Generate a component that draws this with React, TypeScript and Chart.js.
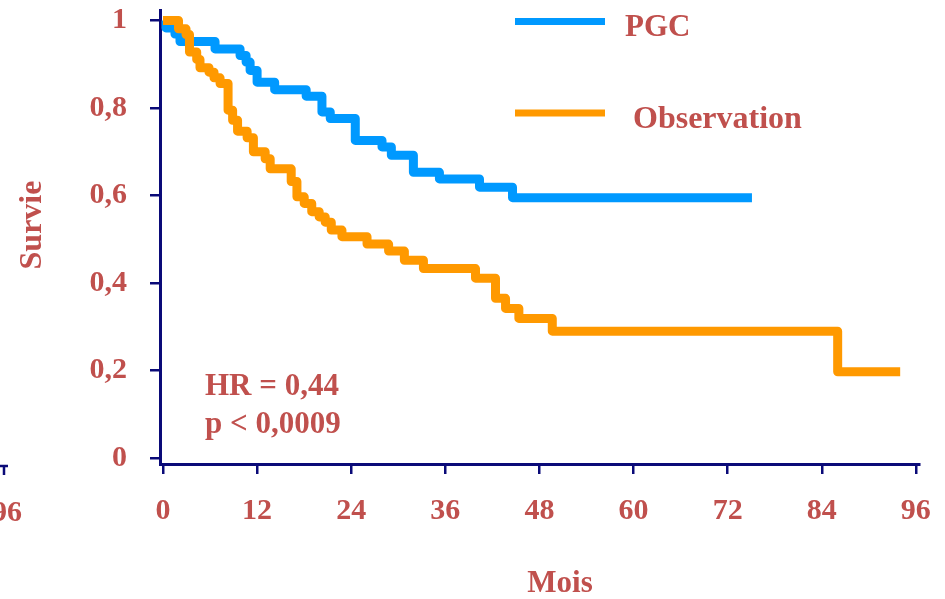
import React, { useEffect, useRef } from "react";
import { Chart, registerables } from "chart.js";

Chart.register(...registerables);

// ---- Data ----
const pgcMonths = [0, 0.38, 1.53, 2.17, 6.64, 9.83, 10.6, 11.11, 12.0, 14.24, 18.26, 20.27, 21.33, 24.52, 27.93, 29.12, 31.93, 35.25, 40.36, 44.57, 75.1];
const pgcSurvival = [1, 0.983, 0.969, 0.952, 0.935, 0.92, 0.905, 0.886, 0.859, 0.842, 0.827, 0.791, 0.776, 0.726, 0.711, 0.692, 0.653, 0.638, 0.619, 0.595, 0.595];

const obsMonths = [0, 1.98, 2.94, 3.38, 4.3, 4.72, 5.87, 6.51, 7.28, 8.3, 8.88, 9.51, 10.73, 11.53, 13.03, 13.67, 16.35, 17.08, 18.01, 18.97, 19.92, 20.69, 21.46, 22.82, 26.02, 28.77, 30.78, 33.21, 39.85, 42.4, 43.68, 45.38, 49.64, 86.03, 94.0];
const obsSurvival = [1, 0.981, 0.968, 0.928, 0.911, 0.892, 0.882, 0.869, 0.856, 0.795, 0.772, 0.747, 0.732, 0.7, 0.684, 0.661, 0.632, 0.597, 0.582, 0.563, 0.551, 0.539, 0.521, 0.506, 0.489, 0.473, 0.452, 0.433, 0.411, 0.365, 0.342, 0.319, 0.29, 0.197, 0.197];

const xTickValues = [0, 12, 24, 36, 48, 60, 72, 84, 96];
const xTickLabels = ["0", "12", "24", "36", "48", "60", "72", "84", "96"];
const yTickValues = [0, 0.2, 0.4, 0.6, 0.8, 1];
const yTickLabels = ["0", "0,2", "0,4", "0,6", "0,8", "1"];

const seriesNames = ["PGC", "Observation"];
const statLines = ["HR = 0,44", "p < 0,0009"];
const xTitle = "Mois";
const yTitle = "Survie";
const fragmentLabel = "96";

// ---- Styles ----
const BLUE = "#0099FF";
const ORANGE = "#FF9900";
const TEXT = "#C0504D";
const AXIS = "#0A0A78";
const FONT_FAMILY = '"Liberation Serif", "Times New Roman", serif';
const FONT = `bold 31px ${FONT_FAMILY}`;

const extrasPlugin = {
  id: "extras",
  afterDraw(chart: any) {
    const ctx = chart.ctx as CanvasRenderingContext2D;
    ctx.save();
    ctx.font = FONT;
    ctx.fillStyle = TEXT;
    ctx.textBaseline = "alphabetic";

    // legend
    const legendColors = [BLUE, ORANGE];
    const legendY = [21.5, 113];
    const legendTextX = [625, 633];
    const legendTextY = [36, 128];
    seriesNames.forEach((name, i) => {
      ctx.strokeStyle = legendColors[i];
      ctx.lineWidth = 7;
      ctx.lineCap = "butt";
      ctx.beginPath();
      ctx.moveTo(515, legendY[i]);
      ctx.lineTo(605, legendY[i]);
      ctx.stroke();
      ctx.textAlign = "left";
      ctx.font = i === 1 ? `bold 32px ${FONT_FAMILY}` : FONT;
      ctx.fillText(name, legendTextX[i], legendTextY[i]);
    });
    ctx.font = FONT;

    // stats
    ctx.textAlign = "left";
    ctx.fillText(statLines[0], 205, 395);
    ctx.fillText(statLines[1], 205, 433);

    // axis titles
    ctx.textAlign = "center";
    ctx.fillText(xTitle, 560, 592);
    ctx.save();
    ctx.font = `bold 32px ${FONT_FAMILY}`;
    ctx.translate(41, 225);
    ctx.rotate(-Math.PI / 2);
    ctx.fillText(yTitle, 0, 0);
    ctx.restore();

    // fragment at far left
    ctx.font = `bold 30px ${FONT_FAMILY}`;
    ctx.textAlign = "right";
    ctx.fillText(fragmentLabel, 22, 521);
    ctx.strokeStyle = AXIS;
    ctx.lineWidth = 2.5;
    ctx.beginPath();
    ctx.moveTo(0, 466);
    ctx.lineTo(8, 466);
    ctx.moveTo(4, 466);
    ctx.lineTo(4, 475);
    ctx.stroke();

    ctx.restore();
  },
};

export default function App() {
  const canvasRef = useRef<HTMLCanvasElement | null>(null);

  useEffect(() => {
    if (!canvasRef.current) return;
    const pgcData = pgcMonths.map((m, i) => ({ x: m, y: pgcSurvival[i] }));
    const obsData = obsMonths.map((m, i) => ({ x: m, y: obsSurvival[i] }));

    const chart = new Chart(canvasRef.current, {
      type: "line",
      data: {
        datasets: [
          {
            label: seriesNames[1],
            data: obsData,
            borderColor: ORANGE,
            backgroundColor: ORANGE,
            borderWidth: 9,
            stepped: "before",
            pointRadius: 0,
            borderJoinStyle: "round",
            borderCapStyle: "butt",
            fill: false,
          },
          {
            label: seriesNames[0],
            data: pgcData,
            borderColor: BLUE,
            backgroundColor: BLUE,
            borderWidth: 9,
            stepped: "before",
            pointRadius: 0,
            borderJoinStyle: "round",
            borderCapStyle: "butt",
            fill: false,
          },
        ],
      },
      options: {
        responsive: false,
        maintainAspectRatio: false,
        animation: false,
        devicePixelRatio: 1,
        layout: { padding: { left: 0, top: 10, right: 26, bottom: 0 } },
        plugins: {
          legend: { display: false },
          tooltip: { enabled: false },
          title: { display: false },
        },
        scales: {
          x: {
            type: "linear",
            min: -0.38,
            max: 96.4,
            afterFit: (scale: any) => {
              scale.height = 135;
              scale.paddingLeft = 0;
              scale.paddingRight = 0;
            },
            afterBuildTicks: (scale: any) => {
              scale.ticks = xTickValues.map((v) => ({ value: v }));
            },
            ticks: {
              color: TEXT,
              font: { family: FONT_FAMILY, size: 30, weight: "bold" },
              padding: 19,
              maxRotation: 0,
              autoSkip: false,
              callback: (_v: any, i: number) => xTickLabels[i],
            },
            grid: {
              display: true,
              drawOnChartArea: false,
              drawTicks: true,
              tickLength: 10,
              color: AXIS,
              lineWidth: 2.5,
            },
            border: { display: true, color: AXIS, width: 3 },
          },
          y: {
            type: "linear",
            min: -0.0137,
            max: 1.024,
            afterFit: (scale: any) => {
              scale.width = 160;
              scale.paddingTop = 0;
              scale.paddingBottom = 0;
            },
            afterBuildTicks: (scale: any) => {
              scale.ticks = yTickValues.map((v) => ({ value: v }));
            },
            ticks: {
              color: TEXT,
              font: { family: FONT_FAMILY, size: 30, weight: "bold" },
              padding: 23,
              autoSkip: false,
              callback: (_v: any, i: number) => yTickLabels[i],
            },
            grid: {
              display: true,
              drawOnChartArea: false,
              drawTicks: true,
              tickLength: 10,
              color: AXIS,
              lineWidth: 2.5,
            },
            border: { display: true, color: AXIS, width: 3 },
          },
        },
      },
      plugins: [extrasPlugin],
    } as any);

    return () => chart.destroy();
  }, []);

  return (
    <div style={{ position: "fixed", left: 0, top: 0, width: 945, height: 599, background: "#fff" }}>
      <canvas ref={canvasRef} width={945} height={599} style={{ display: "block" }} />
    </div>
  );
}
